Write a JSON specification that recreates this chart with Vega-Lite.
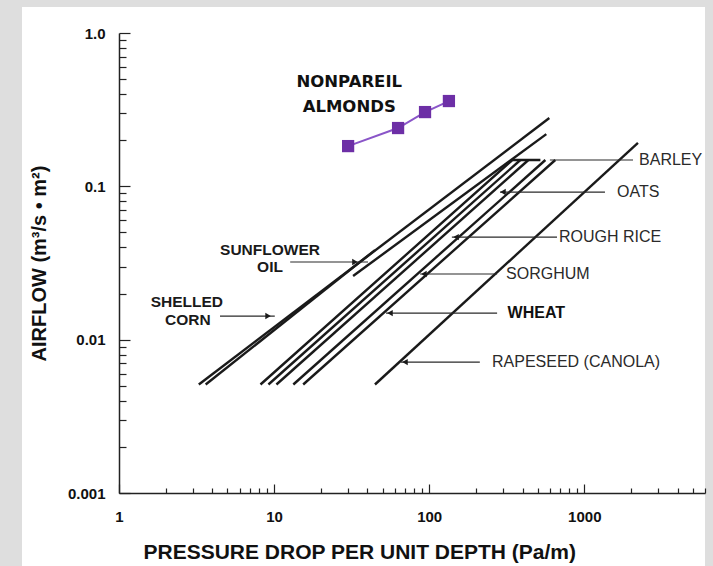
{
  "$schema": "https://vega.github.io/schema/vega-lite/v6.json",
  "width": 683,
  "height": 559,
  "autosize": {"type": "none"},
  "padding": {"left": 22, "top": 7, "right": 8, "bottom": 0},
  "background": "#dedede",
  "config": {
    "view": {"fill": "white", "stroke": null},
    "font": "Liberation Sans"
  },
  "datasets": {
    "curves": [
      {"series": "corn_a", "o": 1, "P": 3.27, "Q": 0.0051},
      {"series": "corn_a", "o": 2, "P": 595, "Q": 0.279},
      {"series": "corn_b", "o": 1, "P": 3.62, "Q": 0.0051},
      {"series": "corn_b", "o": 2, "P": 44.7, "Q": 0.0384},
      {"series": "sunflower", "o": 1, "P": 32.3, "Q": 0.026},
      {"series": "sunflower", "o": 2, "P": 569, "Q": 0.219},
      {"series": "barley", "o": 1, "P": 8.17, "Q": 0.0051},
      {"series": "barley", "o": 2, "P": 344, "Q": 0.1485},
      {"series": "barley", "o": 3, "P": 521, "Q": 0.1485},
      {"series": "oats", "o": 1, "P": 9.19, "Q": 0.0051},
      {"series": "oats", "o": 2, "P": 387, "Q": 0.1485},
      {"series": "rice", "o": 1, "P": 10.35, "Q": 0.0051},
      {"series": "rice", "o": 2, "P": 436, "Q": 0.1485},
      {"series": "sorghum", "o": 1, "P": 13.3, "Q": 0.0051},
      {"series": "sorghum", "o": 2, "P": 561, "Q": 0.1485},
      {"series": "wheat", "o": 1, "P": 15.4, "Q": 0.0051},
      {"series": "wheat", "o": 2, "P": 650, "Q": 0.1485},
      {"series": "rapeseed", "o": 1, "P": 44.7, "Q": 0.0051},
      {"series": "rapeseed", "o": 2, "P": 2218, "Q": 0.192}
    ],
    "almonds": [
      {"P": 30, "Q": 0.183},
      {"P": 63, "Q": 0.24},
      {"P": 94, "Q": 0.305},
      {"P": 134, "Q": 0.36}
    ],
    "leaders": [
      {"name": "barley", "P": 600, "P2": 2061, "Q": 0.1485},
      {"name": "oats", "P": 286, "P2": 1359, "Q": 0.0918},
      {"name": "rice", "P": 140, "P2": 667, "Q": 0.0467},
      {"name": "sorghum", "P": 87.3, "P2": 274, "Q": 0.0268},
      {"name": "wheat", "P": 52.7, "P2": 274, "Q": 0.0149},
      {"name": "rapeseed", "P": 65.8, "P2": 212, "Q": 0.00714},
      {"name": "sunflower", "P": 12.7, "P2": 40.3, "Q": 0.0321},
      {"name": "corn", "P": 4.48, "P2": 10.1, "Q": 0.01426}
    ],
    "arrowsL": [
      {"P": 299, "Q": 0.0918},
      {"P": 149, "Q": 0.0467},
      {"P": 92.5, "Q": 0.0268},
      {"P": 55.9, "Q": 0.0149},
      {"P": 69.8, "Q": 0.00714}
    ],
    "arrowsR": [
      {"P": 9.14, "Q": 0.01426},
      {"P": 33.2, "Q": 0.0321}
    ],
    "rlabels": [
      {"t": "BARLEY", "P": 2254, "Q": 0.1485},
      {"t": "OATS", "P": 1625, "Q": 0.0918},
      {"t": "ROUGH RICE", "P": 687, "Q": 0.0467},
      {"t": "SORGHUM", "P": 313, "Q": 0.0268},
      {"t": "RAPESEED (CANOLA)", "P": 254, "Q": 0.00714}
    ],
    "wlabel": [
      {"t": "WHEAT", "P": 320, "Q": 0.0149}
    ],
    "llabels": [
      {"t": "SUNFLOWER", "P": 9.41, "Q": 0.0384},
      {"t": "OIL", "P": 9.41, "Q": 0.0298},
      {"t": "SHELLED", "P": 2.74, "Q": 0.0176},
      {"t": "CORN", "P": 2.78, "Q": 0.0134}
    ],
    "alabel": [
      {"t": "NONPAREIL", "P": 30.5, "Q": 0.479},
      {"t": "ALMONDS", "P": 30.5, "Q": 0.329}
    ]
  },
  "encoding": {
    "x": {
      "field": "P",
      "type": "quantitative",
      "scale": {"type": "log", "domain": [1, 6000], "range": [97, 683], "nice": false},
      "axis": {
        "title": "PRESSURE DROP PER UNIT DEPTH (Pa/m)",
        "titleFont": "Liberation Sans",
        "titleFontSize": 21,
        "titleFontWeight": "bold",
        "titleColor": "#111111",
        "titleAnchor": "start",
        "titleAlign": "left",
        "titleX": 121,
        "titlePadding": 13,
        "offset": -73,
        "values": [1, 2, 3, 4, 5, 6, 7, 8, 9, 10, 20, 30, 40, 50, 60, 70, 80, 90, 100, 200, 300, 400, 500, 600, 700, 800, 900, 1000, 2000, 3000, 4000, 5000, 6000],
        "labelExpr": "datum.value == 1 || datum.value == 10 || datum.value == 100 || datum.value == 1000 ? format(datum.value, 'd') : ''",
        "labelFont": "Liberation Sans",
        "labelFontSize": 15,
        "labelFontWeight": "bold",
        "labelColor": "#111111",
        "labelPadding": 25,
        "labelFlush": false,
        "labelOverlap": false,
        "tickSize": {"condition": {"test": "datum.value == 1 || datum.value == 10 || datum.value == 100 || datum.value == 1000", "value": -9}, "value": -5},
        "tickColor": "#222222",
        "tickWidth": 1.2,
        "domainColor": "#222222",
        "domainWidth": 1.5,
        "grid": false
      }
    },
    "y": {
      "field": "Q",
      "type": "quantitative",
      "scale": {"type": "log", "domain": [0.001, 1], "range": [486, 26], "nice": false},
      "axis": {
        "title": "AIRFLOW (m³/s • m²)",
        "titleFont": "Liberation Sans",
        "titleFontSize": 20,
        "titleFontWeight": "bold",
        "titleColor": "#111111",
        "titlePadding": 18,
        "offset": -97,
        "values": [0.001, 0.002, 0.003, 0.004, 0.005, 0.006, 0.007, 0.008, 0.009, 0.01, 0.02, 0.03, 0.04, 0.05, 0.06, 0.07, 0.08, 0.09, 0.1, 0.2, 0.3, 0.4, 0.5, 0.6, 0.7, 0.8, 0.9, 1],
        "labelExpr": "datum.value == 1 ? '1.0' : datum.value == 0.1 ? '0.1' : datum.value == 0.01 ? '0.01' : datum.value == 0.001 ? '0.001' : ''",
        "labelFont": "Liberation Sans",
        "labelFontSize": 15,
        "labelFontWeight": "bold",
        "labelColor": "#111111",
        "labelPadding": 25,
        "labelFlush": false,
        "labelOverlap": false,
        "tickSize": {"condition": {"test": "datum.value == 1 || datum.value == 0.1 || datum.value == 0.01 || datum.value == 0.001", "value": -11}, "value": -7},
        "tickColor": "#222222",
        "tickWidth": 1.2,
        "domainColor": "#222222",
        "domainWidth": 1.5,
        "grid": false
      }
    }
  },
  "layer": [
    {
      "data": {"name": "curves"},
      "mark": {"type": "line", "color": "#1a1a1a", "strokeWidth": 2.4},
      "encoding": {
        "detail": {"field": "series"},
        "order": {"field": "o", "type": "quantitative"}
      }
    },
    {
      "data": {"name": "leaders"},
      "mark": {"type": "rule", "color": "#2a2a2a", "strokeWidth": 1.2},
      "encoding": {"x2": {"field": "P2"}}
    },
    {
      "data": {"name": "arrowsL"},
      "mark": {"type": "point", "shape": "triangle-left", "filled": true, "color": "#1a1a1a", "size": 40, "opacity": 1}
    },
    {
      "data": {"name": "arrowsR"},
      "mark": {"type": "point", "shape": "triangle-right", "filled": true, "color": "#1a1a1a", "size": 40, "opacity": 1}
    },
    {
      "data": {"name": "almonds"},
      "mark": {"type": "line", "color": "#8a55c8", "strokeWidth": 2},
      "encoding": {"order": {"field": "P", "type": "quantitative"}}
    },
    {
      "data": {"name": "almonds"},
      "mark": {"type": "square", "color": "#6d2fa6", "size": 150, "opacity": 1}
    },
    {
      "data": {"name": "rlabels"},
      "mark": {"type": "text", "align": "left", "baseline": "middle", "font": "Liberation Sans", "fontSize": 16, "color": "#2a2a2a"},
      "encoding": {"text": {"field": "t"}}
    },
    {
      "data": {"name": "wlabel"},
      "mark": {"type": "text", "align": "left", "baseline": "middle", "font": "Liberation Sans", "fontSize": 16, "fontWeight": "bold", "color": "#111111"},
      "encoding": {"text": {"field": "t"}}
    },
    {
      "data": {"name": "llabels"},
      "mark": {"type": "text", "align": "center", "baseline": "middle", "font": "Liberation Sans", "fontSize": 15.5, "fontWeight": "bold", "color": "#1a1a1a"},
      "encoding": {"text": {"field": "t"}}
    },
    {
      "data": {"name": "alabel"},
      "mark": {"type": "text", "align": "center", "baseline": "middle", "font": "DejaVu Sans", "fontSize": 16.5, "fontWeight": "bold", "color": "#111111"},
      "encoding": {"text": {"field": "t"}}
    }
  ]
}
